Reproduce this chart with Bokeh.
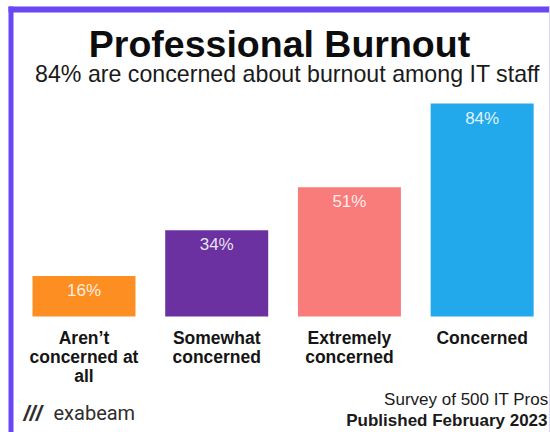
from bokeh.plotting import figure
from bokeh.models import Range1d, Label, BoxAnnotation, ColumnDataSource
from bokeh.core.properties import value
from bokeh.embed import file_html
from bokeh.resources import INLINE
import numpy as np

# ---- data ----
categories = ["Aren\u2019t\nconcerned at\nall", "Somewhat\nconcerned", "Extremely\nconcerned", "Concerned"]
values = [16, 34, 51, 84]
value_labels = ["16%", "34%", "51%", "84%"]
bar_colors = ["#fd8e22", "#6b31a1", "#f97b7a", "#22a9ec"]
title_text = "Professional Burnout"
subtitle_text = "84% are concerned about burnout among IT staff"
note_line1 = "Survey of 500 IT Pros"
note_line2 = "Published February 2023"
brand_text = "exabeam"

W, H = 550, 432
FONT = "Liberation Sans"
BORDER = "#6b46f3"

xs = np.arange(len(values))
src = ColumnDataSource(dict(x=xs, top=values, lab=value_labels, cat=categories, color=bar_colors))

p = figure(width=W, height=H, x_range=Range1d(-0.629, 3.515), y_range=Range1d(-45.76, 124.65),
           output_backend="svg", toolbar_location=None, min_border=0,
           x_axis_type=None, y_axis_type=None, outline_line_color=None)
p.background_fill_color = "white"
p.border_fill_color = "white"

p.vbar(x="x", top="top", bottom=0, width=0.776, color="color", line_color=None, source=src)

p.text(x="x", y="top", text="lab", source=src, text_align="center", text_baseline="top",
       y_offset=5, text_font=value(FONT), text_font_size="17px", text_color="white", text_alpha=0.88)

p.text(x="x", y=0, text="cat", source=src, text_align="center", text_baseline="top",
       y_offset=12, text_font=value(FONT), text_font_size="17.5px", text_font_style="bold",
       text_color="#151515", text_line_height=0.93)

def lab(x, y, text, size, style="normal", align="center", color="#111111", font=FONT):
    p.add_layout(Label(x=x, y=y, x_units="screen", y_units="screen", text=text,
                       text_font=font, text_font_size=size, text_font_style=style,
                       text_align=align, text_baseline="alphabetic", text_color=color))

lab(279, 389, title_text, "37.5px", "bold", color="#0d0d0d")
lab(287, 359, subtitle_text, "23.2px", color="#1a1a1a")
lab(548, 33, note_line1, "17px", align="right", color="#1a1a1a")
lab(547, 12, note_line2, "17px", "bold", align="right", color="#1a1a1a")
lab(53, 20, brand_text, "20px", align="left", color="#2e2e2e", font="Roboto")
lab(23, 19, "///", "22px", "bold italic", align="left", color="#2e2e2e")

def box(**kw):
    b = BoxAnnotation(left_units="screen", right_units="screen", top_units="screen",
                      bottom_units="screen", line_color=None, **kw)
    p.add_layout(b)

box(left=8, top=426, bottom=420, fill_color=BORDER, fill_alpha=1)
box(left=8, right=13, top=426, fill_color=BORDER, fill_alpha=1)
box(left=548.5, top=426, fill_color="#dcd4fb", fill_alpha=1)

open("out.html", "w").write(file_html(p, INLINE))
